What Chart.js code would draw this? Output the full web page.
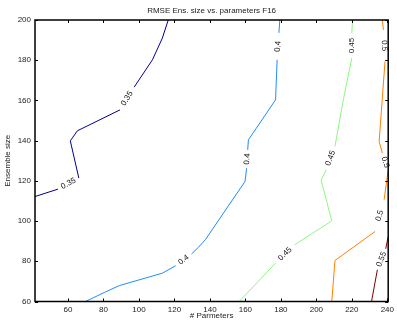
<!DOCTYPE html>
<html><head><meta charset="utf-8">
<script src="https://cdn.jsdelivr.net/npm/chart.js"></script>
<style>html,body{margin:0;padding:0;background:#fff;}canvas{display:block;}</style>
</head><body>
<canvas id="c" width="397" height="321"></canvas>
<script>
// Contour levels and traced contour paths (null = gap where the inline label sits)
const levels = [0.35, 0.4, 0.45, 0.5, 0.55];

const c035x = [116.5, 113.2, 107.6, 97.3, null, 89.3, 65.3, 61.3, 66.1, null, 54.4, 41.4];
const c035y = [200, 191.0, 180.2, 166.6, null, 155.3, 144.9, 139.9, 121.4, null, 115.9, 112.2];

const c040x = [69.9, 80.5, 88.9, 113.2, 120.7, null, 129.6, 133.7, 137.4, 159.8, 160.7, null, 161.3, 161.7, 177.0, 177.9, null, 178.9, 179.4];
const c040y = [60, 64.5, 67.9, 74.1, 77.8, null, 83.6, 87.1, 90.7, 119.7, 126.3, null, 135.4, 140.4, 160.3, 180.2, null, 193.6, 200];

const c045x = [156.5, 177.0, null, 187.8, 208.7, 202.7, 205.5, null, 210.5, 215.2, 220.0, null, 220.0, 220.4];
const c045y = [60, 79.1, null, 88.2, 100.1, 120.2, 125.5, null, 137.1, 160.3, 181.1, null, 193.5, 200];

const c050x = [208.7, 210.5, 233.1, null, 238.2, 240.4, null, 237.2, 235.4, 238.7, null, 237.8, 237.2];
const c050y = [60, 80.4, 94.8, null, 110.6, 124.7, null, 133.8, 139.6, 179.4, null, 195.1, 200];

const c055x = [240.5, 239.1, null, 234.4, 231.1];
const c055y = [92.3, 86.2, null, 75.8, 60];

const xTickValues = [60, 80, 100, 120, 140, 160, 180, 200, 220, 240];
const yTickValues = [60, 80, 100, 120, 140, 160, 180, 200];

const titleText = 'RMSE Ens. size vs. parameters F16';
const xTitle = '# Parmeters';
const yTitle = 'Ensemble size';

// styles
const lineColors = ['#00008f', '#1e8cff', '#8cf780', '#ff8000', '#800000'];
const FONT = "8px 'Liberation Sans', Arial, Helvetica, sans-serif";

const contours = [
  {x: c035x, y: c035y},
  {x: c040x, y: c040y},
  {x: c045x, y: c045y},
  {x: c050x, y: c050y},
  {x: c055x, y: c055y}
];

const datasets = contours.map((c, i) => ({
  label: String(levels[i]),
  data: c.x.map((v, j) => ({x: v, y: c.y[j]})),
  showLine: true,
  spanGaps: false,
  borderColor: lineColors[i],
  backgroundColor: lineColors[i],
  borderWidth: 1,
  pointRadius: 0,
  pointHoverRadius: 0,
  tension: 0
}));

const decor = {
  id: 'decor',
  afterDatasetsDraw(chart) {
    const ctx = chart.ctx, xs = chart.scales.x, ys = chart.scales.y;
    ctx.save();
    ctx.font = FONT;
    ctx.fillStyle = '#111';
    ctx.textAlign = 'center';
    ctx.textBaseline = 'middle';
    contours.forEach((c, i) => {
      for (let k = 1; k < c.x.length - 1; k++) {
        if (c.x[k] !== null) continue;
        const x1 = xs.getPixelForValue(c.x[k - 1]), y1 = ys.getPixelForValue(c.y[k - 1]);
        const x2 = xs.getPixelForValue(c.x[k + 1]), y2 = ys.getPixelForValue(c.y[k + 1]);
        let a = Math.atan2(y2 - y1, x2 - x1);
        if (a >= Math.PI / 2 - 1e-9) a -= Math.PI;
        if (a < -Math.PI / 2 - 1e-9) a += Math.PI;
        ctx.save();
        ctx.translate((x1 + x2) / 2, (y1 + y2) / 2);
        ctx.rotate(a);
        ctx.fillText(String(levels[i]), 0, 0);
        ctx.restore();
      }
    });
    ctx.restore();
  },
  afterDraw(chart) {
    const ctx = chart.ctx, a = chart.chartArea, xs = chart.scales.x, ys = chart.scales.y;
    ctx.save();
    ctx.strokeStyle = '#000';
    ctx.lineWidth = 1.5;
    ctx.strokeRect(a.left, a.top, a.right - a.left, a.bottom - a.top);
    ctx.lineWidth = 1;
    ctx.beginPath();
    const tl = 3;
    xTickValues.forEach(v => {
      const p = Math.round(xs.getPixelForValue(v)) + 0.5;
      ctx.moveTo(p, a.bottom); ctx.lineTo(p, a.bottom - tl);
      ctx.moveTo(p, a.top); ctx.lineTo(p, a.top + tl);
    });
    yTickValues.forEach(v => {
      const p = Math.round(ys.getPixelForValue(v)) + 0.5;
      ctx.moveTo(a.left, p); ctx.lineTo(a.left + tl, p);
      ctx.moveTo(a.right, p); ctx.lineTo(a.right - tl, p);
    });
    ctx.stroke();
    ctx.fillStyle = '#222';
    ctx.font = FONT;
    ctx.textAlign = 'center';
    ctx.textBaseline = 'middle';
    const cx = (a.left + a.right) / 2;
    ctx.fillText(titleText, cx, 11);
    ctx.fillText(xTitle, cx, 316);
    ctx.save();
    ctx.translate(8, (a.top + a.bottom) / 2);
    ctx.rotate(-Math.PI / 2);
    ctx.fillText(yTitle, 0, 0);
    ctx.restore();
    ctx.restore();
  }
};

new Chart(document.getElementById('c'), {
  type: 'scatter',
  data: {datasets},
  options: {
    responsive: false,
    devicePixelRatio: 1,
    animation: false,
    layout: {padding: {top: 20, right: 6, left: 0, bottom: 0}},
    plugins: {legend: {display: false}, title: {display: false}, tooltip: {enabled: false}},
    scales: {
      x: {
        type: 'linear', position: 'bottom', min: 41.4, max: 240.5,
        afterBuildTicks: s => { s.ticks = xTickValues.map(v => ({value: v})); },
        afterFit: s => { s.height = 19.5; },
        grid: {display: false, drawTicks: false},
        border: {display: false},
        ticks: {autoSkip: false, maxRotation: 0, padding: 3, color: '#222',
                font: {family: "'Liberation Sans', Arial, sans-serif", size: 8}}
      },
      y: {
        type: 'linear', position: 'left', min: 60, max: 200,
        afterBuildTicks: s => { s.ticks = yTickValues.map(v => ({value: v})); },
        afterFit: s => { s.width = 35; },
        grid: {display: false, drawTicks: false},
        border: {display: false},
        ticks: {autoSkip: false, padding: 4, color: '#222',
                font: {family: "'Liberation Sans', Arial, sans-serif", size: 8}}
      }
    }
  },
  plugins: [decor]
});
</script>
</body></html>
